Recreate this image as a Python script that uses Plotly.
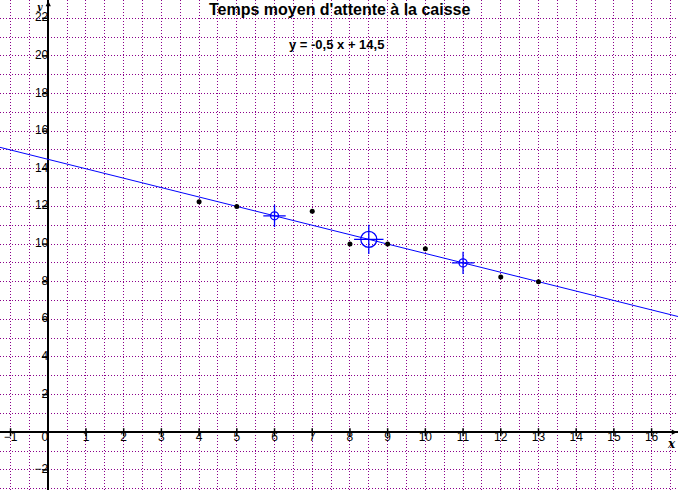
import plotly.graph_objects as go

# Data
obs_x = [4, 5, 7, 8, 9, 10, 12, 13]
obs_y = [12.25, 12, 11.75, 10, 10, 9.75, 8.25, 8]
slope = -0.5
intercept = 14.5
line_pts_x = [6, 11]
x_range = [-1.28, 16.70]
y_range = [-3.07, 22.97]
x_tick_vals = [v for v in range(-1, 17) if v != 0]
y_tick_vals = [v for v in range(-2, 23, 2) if v != 0]

title_text = "Temps moyen d'attente à la caisse"
eq_text = "y = -0,5 x + 14,5"

mean_x = sum(obs_x) / len(obs_x)
mean_y = sum(obs_y) / len(obs_y)

BLUE = "#0000ff"
PURPLE = "#8b008b"
FONT = "Liberation Sans"


def fmt(v):
    return ("\u2212" + str(-v)) if v < 0 else str(v)


fig = go.Figure()

# regression line across the full range
lx = [x_range[0], x_range[1]]
ly = [slope * v + intercept for v in lx]
fig.add_trace(go.Scatter(x=lx, y=ly, mode="lines",
                         line=dict(color=BLUE, width=1), hoverinfo="skip"))

# observed points
fig.add_trace(go.Scatter(x=obs_x, y=obs_y, mode="markers",
                         marker=dict(color="black", size=5, symbol="circle")))

# construction points on the line
cy = [slope * v + intercept for v in line_pts_x]
fig.add_trace(go.Scatter(x=line_pts_x, y=cy, mode="markers",
                         marker=dict(symbol="circle-open", size=8, color=BLUE,
                                     line=dict(color=BLUE, width=1.3))))
fig.add_trace(go.Scatter(x=line_pts_x, y=cy, mode="markers",
                         marker=dict(symbol="cross-thin-open", size=16, color=BLUE,
                                     line=dict(color=BLUE, width=1.3))))

# mean point
fig.add_trace(go.Scatter(x=[mean_x], y=[mean_y], mode="markers",
                         marker=dict(symbol="circle-open", size=16, color=BLUE,
                                     line=dict(color=BLUE, width=1.3))))
fig.add_trace(go.Scatter(x=[mean_x], y=[mean_y], mode="markers",
                         marker=dict(symbol="cross-thin-open", size=21, color=BLUE,
                                     line=dict(color=BLUE, width=1.3))))

# tick labels
fig.add_trace(go.Scatter(x=x_tick_vals, y=[0] * len(x_tick_vals), mode="text",
                         text=[fmt(v) for v in x_tick_vals],
                         textposition="bottom center",
                         textfont=dict(family=FONT, size=12, color="black")))
fig.add_trace(go.Scatter(x=[0] * len(y_tick_vals), y=y_tick_vals, mode="text",
                         text=[fmt(v) for v in y_tick_vals],
                         textposition="middle left",
                         textfont=dict(family=FONT, size=12, color="black")))
fig.add_trace(go.Scatter(x=[0], y=[0], mode="text", text=["0"],
                         textposition="bottom left",
                         textfont=dict(family=FONT, size=12, color="black")))

shapes = []
for v in x_tick_vals:
    shapes.append(dict(type="line", xref="x", yref="y", x0=v, x1=v,
                       ysizemode="pixel", yanchor=0, y0=-4, y1=4,
                       line=dict(color="black", width=1.5)))
for v in y_tick_vals:
    shapes.append(dict(type="line", xref="x", yref="y", y0=v, y1=v,
                       xsizemode="pixel", xanchor=0, x0=-6, x1=0,
                       line=dict(color="black", width=1.5)))

annotations = [
    dict(text="<b>" + title_text + "</b>", xref="paper", yref="paper",
         x=0.5, y=1, xanchor="center", yanchor="top", yshift=1, showarrow=False,
         font=dict(family=FONT, size=16, color="black")),
    dict(text="<b>" + eq_text + "</b>", xref="paper", yref="paper",
         x=0.497, y=1, xanchor="center", yanchor="top", yshift=-35, showarrow=False,
         font=dict(family=FONT, size=13, color="black")),
    dict(text="<b><i>x</i></b>", xref="paper", yref="y", x=1, y=0,
         xanchor="right", yanchor="top", xshift=0, yshift=-3, showarrow=False,
         font=dict(family="DejaVu Serif", size=12, color="black")),
    dict(text="<b><i>y</i></b>", xref="x", yref="paper", x=0, y=1,
         xanchor="right", yanchor="top", xshift=-3, yshift=0, showarrow=False,
         font=dict(family="DejaVu Serif", size=9, color="black")),
    dict(text="", xref="x", yref="paper", x=0, y=1, ax=0, ay=12,
         showarrow=True, arrowhead=2, arrowsize=0.7, arrowwidth=1.5,
         arrowcolor="black"),
    dict(text="", xref="paper", yref="y", x=1, y=0, ax=-12, ay=0,
         showarrow=True, arrowhead=2, arrowsize=0.7, arrowwidth=1.5,
         arrowcolor="black"),
]

fig.update_layout(
    width=678, height=490,
    margin=dict(l=0, r=0, t=0, b=0),
    paper_bgcolor="white", plot_bgcolor="white",
    showlegend=False,
    shapes=shapes,
    annotations=annotations,
    xaxis=dict(range=x_range, dtick=0.5, tick0=0, showticklabels=False,
               ticks="", showgrid=True, gridcolor=PURPLE, gridwidth=1,
               griddash="1px,2px", zeroline=True, zerolinecolor="black",
               zerolinewidth=2, showline=False, fixedrange=True),
    yaxis=dict(range=y_range, dtick=1, tick0=0, showticklabels=False,
               ticks="", showgrid=True, gridcolor=PURPLE, gridwidth=1,
               griddash="1px,2px", zeroline=True, zerolinecolor="black",
               zerolinewidth=2, showline=False, fixedrange=True),
)

fig.write_html("out.html", config={"displayModeBar": False},
               post_script="document.body.style.margin='0';document.body.style.overflow='hidden';")
